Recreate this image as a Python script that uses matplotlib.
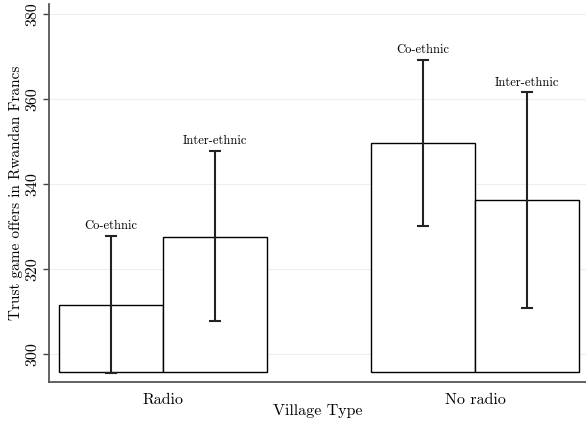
import numpy as np
import matplotlib.pyplot as plt

plt.rcParams['font.family'] = 'cmr10'
plt.rcParams['axes.formatter.use_mathtext'] = True

# Mean trust-game offers and 95% interval bounds by village type and pairing
groups = ['Radio', 'No radio']
pairings = ['Co-ethnic', 'Inter-ethnic']
means = [311.5, 327.5, 349.6, 336.2]
ci_low = [295.5, 307.8, 330.1, 310.8]
ci_high = [327.8, 347.8, 369.2, 361.6]
x_pos = [1, 2, 4, 5]
labels = pairings * 2
base = 295.8

fig = plt.figure(figsize=(5.86, 4.25), dpi=100)
ax = fig.add_axes([49 / 586, 43 / 425, 537 / 586, 378 / 425])

means = np.array(means)
heights = means - base
ax.bar(x_pos, heights, bottom=base, width=1.0, color='white',
       edgecolor='black', linewidth=1.0, zorder=2)

err = np.array([means - np.array(ci_low), np.array(ci_high) - means])
ax.errorbar(x_pos, means, yerr=err, fmt='none', ecolor='#222222',
            elinewidth=1.5, capsize=4, capthick=1.5, zorder=3)

for x, hi, lab in zip(x_pos, ci_high, labels):
    ax.text(x, hi + 0.9, lab, ha='center', va='bottom', fontsize=9)

ax.set_xlim(0.404, 5.567)
ax.set_ylim(293.4, 382.4)
ax.set_yticks([300, 320, 340, 360, 380])
ax.set_yticklabels(['300', '320', '340', '360', '380'], rotation=90, va='center')
ax.set_xticks([1.5, 4.5])
ax.set_xticklabels(groups)
ax.tick_params(axis='x', length=0, pad=8, labelsize=11.5)
ax.tick_params(axis='y', length=4, width=1, color='#444444', labelsize=11.5, pad=3)

ax.yaxis.grid(True, color='#eeeeee', linewidth=0.8)
ax.set_axisbelow(True)

for side in ['top', 'right']:
    ax.spines[side].set_visible(False)
for side in ['left', 'bottom']:
    ax.spines[side].set_color('#555555')
    ax.spines[side].set_linewidth(1.3)

ax.set_ylabel('Trust game offers in Rwandan Francs', fontsize=11, labelpad=2)
ax.set_xlabel('Village Type', fontsize=11.5, labelpad=-2)

fig.savefig('out.png', dpi=100)
